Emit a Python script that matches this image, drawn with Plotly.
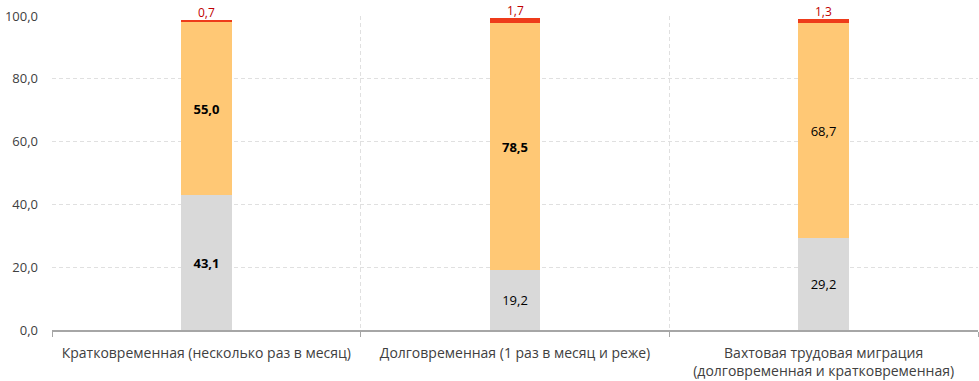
import plotly.graph_objects as go

categories = ["Кратковременная (несколько раз в месяц)",
              "Долговременная (1 раз в месяц и реже)",
              "Вахтовая трудовая миграция<br>(долговременная и кратковременная)"]
gray_vals = [43.1, 19.2, 29.2]
orange_vals = [55.0, 78.5, 68.7]
red_vals = [0.7, 1.7, 1.3]
gray_bold = [True, False, False]
orange_bold = [True, True, False]

def fmt(v, b):
    s = f"{v:.1f}".replace(".", ",")
    return f"<b>{s}</b>" if b else s

FONT = "Open Sans"
fig = go.Figure()
fig.add_bar(x=categories, y=gray_vals, marker_color="#D9D9D9", width=0.165,
            marker_line_width=0,
            text=[fmt(v, b) for v, b in zip(gray_vals, gray_bold)],
            textposition="inside", insidetextanchor="middle",
            textfont=dict(color="#000000", size=13, family=FONT),
            constraintext="none", hoverinfo="skip")
fig.add_bar(x=categories, y=orange_vals, marker_color="#FFC875", width=0.165,
            marker_line_width=0,
            text=[fmt(v, b) for v, b in zip(orange_vals, orange_bold)],
            textposition="inside", insidetextanchor="middle",
            textfont=dict(color="#000000", size=13, family=FONT),
            constraintext="none", hoverinfo="skip")
fig.add_bar(x=categories, y=red_vals, marker_color="#EE3B1A", width=0.165,
            marker_line_width=0, hoverinfo="skip")

for c, g, o, r in zip(categories, gray_vals, orange_vals, red_vals):
    fig.add_annotation(x=c, y=g + o + r, text=fmt(r, False), showarrow=False,
                       yanchor="bottom", yshift=-3,
                       font=dict(color="#C00000", size=12, family=FONT))

fig.update_layout(
    barmode="stack", width=979, height=381, showlegend=False,
    margin=dict(l=52, r=1, t=16, b=51),
    plot_bgcolor="white", paper_bgcolor="white",
    separators=", ",
    font=dict(family=FONT, size=13, color="#404040"),
    bargap=0,
)
fig.update_xaxes(type="category", tickson="boundaries", showgrid=True,
                 gridcolor="#E0E0E0", griddash="4px,3px", gridwidth=1,
                 ticks="outside", ticklen=5, tickcolor="#A6A6A6",
                 showline=True, linecolor="#A6A6A6", linewidth=2,
                 automargin=False, ticklabelstandoff=9,
                 tickfont=dict(size=14, color="#404040", family=FONT))
fig.update_yaxes(range=[0, 100], dtick=20, tickformat=".1f",
                 showgrid=True, gridcolor="#E0E0E0", griddash="4px,3px",
                 zeroline=False, ticks="", showline=False, automargin=False,
                 ticklabelstandoff=13,
                 tickfont=dict(size=13, color="#404040", family=FONT))
fig.write_html("out.html", config={"displayModeBar": False},
               post_script="document.body.style.margin='0';document.body.style.overflow='hidden';")
